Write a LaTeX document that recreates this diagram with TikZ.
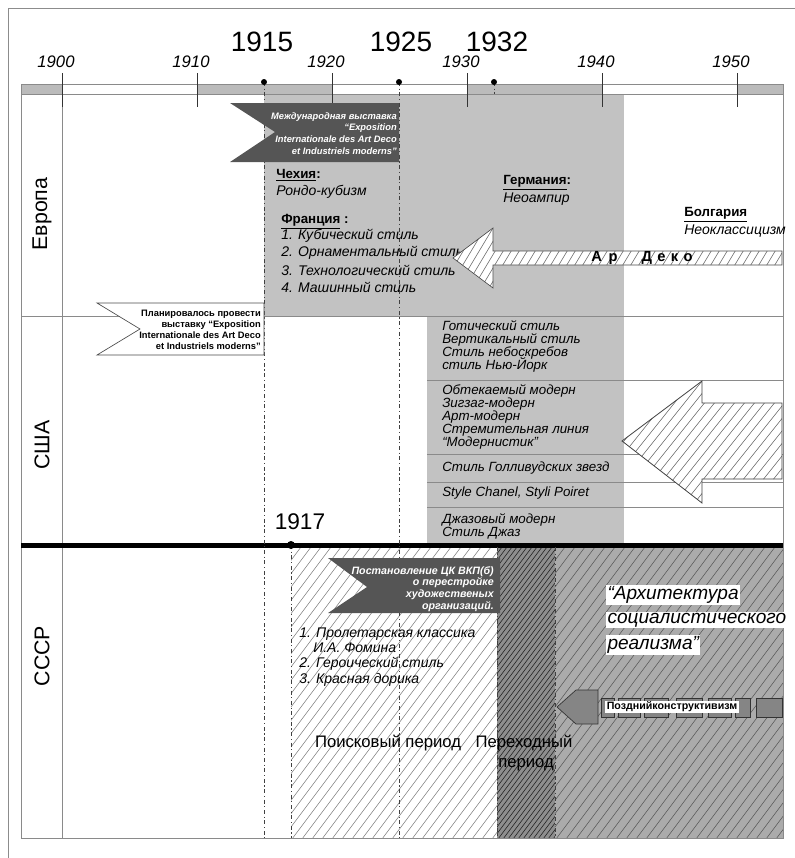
\documentclass[tikz,border=0pt]{standalone}
\usepackage{fontspec}
\setmainfont{Liberation Sans}
\definecolor{lgray}{HTML}{C2C2C2}
\definecolor{bargray}{HTML}{BBBBBB}
\definecolor{dgray}{HTML}{555555}
\definecolor{ussrgray}{HTML}{ABABAB}
\definecolor{ussrdark}{HTML}{8E8E8E}
\definecolor{linegray}{HTML}{8A8A8A}
\newcommand{\hatchlines}[7]{%
  \pgfmathsetmacro{\hA}{#1-(#4-#3)*#6}%
  \pgfmathsetmacro{\hB}{\hA+#5}%
  \pgfmathsetmacro{\hH}{#4-#3}%
  \pgfmathsetmacro{\hW}{(#4-#3)*#6}%
  \foreach \hx in {\hA,\hB,...,#2} { \draw[#7] (\hx,#4) -- ++(\hW,-\hH); }%
}
\newcommand{\tightlines}{\setlength{\lineskiplimit}{-10pt}\setlength{\lineskip}{0pt}}
\tikzset{
  yrline/.style={draw=black!75, line width=0.7pt, dash pattern=on 3pt off 2pt on 0.8pt off 2pt},
  tabline/.style={draw=linegray, line width=0.6pt},
  decade/.style={font=\itshape\fontsize{12.5}{14}\selectfont, inner sep=0pt},
  bigyear/.style={font=\fontsize{21}{24}\selectfont, inner sep=0pt},
  rowlab/.style={font=\fontsize{16}{18}\selectfont, rotate=90, inner sep=0pt},
  head/.style={font=\bfseries\fontsize{10}{12}\selectfont, anchor=west, inner sep=0pt},
  item/.style={font=\itshape\fontsize{10.5}{12}\selectfont, anchor=west, inner sep=0pt},
  usitem/.style={font={\itshape\fontsize{10}{9.8}\selectfont\tightlines}, anchor=west, align=left, inner sep=0pt},
  flagtxt/.style={text=white, font=\bfseries\itshape\fontsize{7}{8.8}\selectfont, align=right, anchor=east, inner sep=0pt},
  hatchthin/.style={draw=black!60, line width=0.4pt},
  srtext/.style={anchor=west, fill=white, inner sep=1pt, font=\itshape\fontsize{14.3}{16}\selectfont},
}
\begin{document}
\begin{tikzpicture}[x=0.75pt,y=-0.75pt]
\useasboundingbox (0,0) rectangle (795,858);
% outer frame
\draw[draw=black!45, line width=0.6pt] (8,858) -- (8,8) -- (795,8);
% gray regions
\fill[lgray] (264,94) rectangle (624,316);
\fill[lgray] (427,316) rectangle (624,545);
% USSR regions
\begin{scope}
  \clip (291,547) rectangle (497,838);
  \hatchlines{291}{497}{547}{838}{10}{0.75}{draw=black!50, line width=0.4pt}
\end{scope}
\fill[ussrdark] (497,547) rectangle (555,838);
\begin{scope}
  \clip (497,547) rectangle (555,838);
  \hatchlines{497}{555}{547}{838}{5}{0.75}{draw=black!85, line width=0.45pt}
\end{scope}
\fill[ussrgray] (555,547) rectangle (783,838);
\begin{scope}
  \clip (555,547) rectangle (783,838);
  \hatchlines{555}{783}{547}{838}{10}{0.75}{draw=black!65, line width=0.4pt}
\end{scope}
% timeline bar
\draw[tabline, fill=white] (21,84) rectangle (783,94);
\foreach \xa/\xb in {21/62,197/332,467/602,737/783} { \fill[bargray] (\xa,84) rectangle (\xb,94); }
\draw[tabline] (21,84) rectangle (783,94);
% table lines
\draw[tabline] (21,94) rectangle (783,838);
\draw[tabline] (62,94) -- (62,838);
\draw[tabline] (21,316) -- (783,316);
\foreach \yy in {380,454,482,507} { \draw[tabline, line width=0.5pt] (427,\yy) -- (783,\yy); }
\draw[line width=3.75pt] (21,545) -- (783,545);
% decade ticks and labels
\foreach \yr/\xx in {1900/62,1910/197,1920/332,1930/467,1940/602,1950/737} {
  \draw[draw=black!80, line width=0.6pt] (\xx,73) -- (\xx,107);
  \node[decade] (d\yr) at (\xx-6,62) {\yr};
}
% year lines
\draw[yrline] (264,82) -- (264,838);
\draw[yrline] (399,82) -- (399,838);
\draw[yrline] (494,82) -- (494,94);
\draw[yrline] (291,545) -- (291,838);
\draw[yrline] (497,547) -- (497,838);
\draw[yrline] (555,547) -- (555,838);
\foreach \xx in {264,399,494} { \fill (\xx,82) circle (3); }
\fill (291,545) circle (4);
\node[bigyear] (y1915) at (262,42) {1915};
\node[bigyear] (y1925) at (401,42) {1925};
\node[bigyear] (y1932) at (497,42) {1932};
\node[font=\fontsize{17}{20}\selectfont, inner sep=0pt] (y1917) at (300,522) {1917};
% row labels
\node[rowlab] (reu) at (42,214) {Европа};
\node[rowlab] (rus) at (42,445) {США};
\node[rowlab] (rsu) at (42,656) {СССР};
% Europe flag
\fill[dgray] (230,103) -- (399,103) -- (399,162) -- (230,162) -- (275,132) -- cycle;
\node[flagtxt] (euflag) at (397,133.5) {Международная выставка\\“Exposition\\Internationale des Art Deco\\et Industriels moderns”};
% Europe texts
\node[head] (cz) at (276,175) {\underline{Чехия}:};
\node[item] (czs) at (276,192) {Рондо-кубизм};
\node[head] (fr) at (281,222) {\underline{Франция} :};
\node[item] (fr1) at (281,236) {1. Кубический стиль};
\node[item] (fr2) at (281,253) {2. Орнаментальный стиль};
\node[item] (fr3) at (281,270) {3. Технологический стиль};
\node[item] (fr4) at (281,287) {4. Машинный стиль};
\node[head] (de) at (503,183) {\underline{Германия}:};
\node[item] (des) at (503,199) {Неоампир};
\node[head] (bg) at (684,215) {\underline{Болгария}};
\node[item] (bgs) at (684,231) {Неоклассицизм};
% Art Deco arrow
\fill[white] (453,258) -- (493,228) -- (493,251) -- (782,251) -- (782,265) -- (493,265) -- (493,288) -- cycle;
\begin{scope}
  \clip (453,258) -- (493,228) -- (493,251) -- (782,251) -- (782,265) -- (493,265) -- (493,288) -- cycle;
  \hatchlines{453}{782}{228}{288}{8}{0.6}{hatchthin}
\end{scope}
\draw[draw=black!70, line width=0.5pt] (453,258) -- (493,228) -- (493,251) -- (782,251) -- (782,265) -- (493,265) -- (493,288) -- cycle;
\node[font=\bfseries\fontsize{11}{12}\selectfont, inner sep=0pt] (artdeco) at (642,258) {А\hspace{5pt}р\hspace{18pt}Д\hspace{4pt}е\hspace{4pt}к\hspace{4pt}о};
% USA flag
\draw[draw=black!70, fill=white, line width=0.5pt] (97,303) -- (264,303) -- (264,355) -- (97,355) -- (140,329) -- cycle;
\node[font=\bfseries\fontsize{7}{8.3}\selectfont, align=right, anchor=east, inner sep=0pt] (usflag) at (261,329.5) {Планировалось провести\\выставку “Exposition\\Internationale des Art Deco\\et Industriels moderns”};
% USA lists
\node[usitem] (us1) at (442,346.5) {Готический стиль\\Вертикальный стиль\\Стиль небоскребов\\стиль Нью-Йорк};
\node[usitem] (us2) at (442,417) {Обтекаемый модерн\\Зигзаг-модерн\\Арт-модерн\\Стремительная линия\\“Модернистик”};
\node[usitem] (us3) at (442,468) {Стиль Голливудских звезд};
\node[usitem] (us4) at (442,493) {Style Chanel, Styli Poiret};
\node[usitem] (us5) at (442,526.5) {Джазовый модерн\\Стиль Джаз};
% USA arrow
\fill[white] (622,441) -- (702,381) -- (702,403) -- (782,403) -- (782,479) -- (702,479) -- (702,503) -- cycle;
\begin{scope}
  \clip (622,441) -- (702,381) -- (702,403) -- (782,403) -- (782,479) -- (702,479) -- (702,503) -- cycle;
  \hatchlines{622}{782}{381}{503}{10}{0.8}{hatchthin}
\end{scope}
\draw[draw=black!75, line width=0.6pt] (622,441) -- (702,381) -- (702,403) -- (782,403) -- (782,479) -- (702,479) -- (702,503) -- cycle;
% USSR flag
\fill[dgray] (328,558) -- (500,558) -- (500,613) -- (328,613) -- (367,587) -- cycle;
\node[flagtxt, font=\bfseries\itshape\fontsize{8}{8.8}\selectfont] (suflag) at (494,589) {Постановление ЦК ВКП(б)\\о перестройке\\художественых\\организаций.};
% USSR list
\node[item] (su1) at (299,634) {1. Пролетарская классика};
\node[item] (su1b) at (313,648) {И.А. Фомина};
\node[item] (su2) at (299,664) {2. Героический стиль};
\node[item] (su3) at (299,680) {3. Красная дорика};
% socialist realism
\node[srtext] (sr1) at (606,595) {“Архитектура};
\node[srtext] (sr2) at (606,620) {социалистического};
\node[srtext] (sr3) at (606,645) {реализма”};
% late constructivism arrow
\draw[draw=black!80, fill=black!48, line width=0.5pt] (557,707) -- (576,690) -- (598,690) -- (598,724) -- (576,724) -- cycle;
\foreach \xa/\xb in {601/614,618/640,644/668,676/702,708/731,735/750,756/782} {
  \draw[draw=black!80, fill=black!48, line width=0.5pt] (\xa,698) rectangle (\xb,717);
}
\node[fill=white, inner sep=1pt, font=\bfseries\fontsize{8}{9}\selectfont] (latecon) at (672,707) {Позднийконструктивизм};
% bottom labels
\node[font=\fontsize{12.5}{14}\selectfont, inner sep=0pt] (poisk) at (388,743) {Поисковый период};
\node[font=\fontsize{12.5}{14}\selectfont, inner sep=0pt] (perekh) at (524,743) {Переходный};
\node[font=\fontsize{12.5}{14}\selectfont, inner sep=0pt] (perekh2) at (526,765) {период};
\end{tikzpicture}
\end{document}
